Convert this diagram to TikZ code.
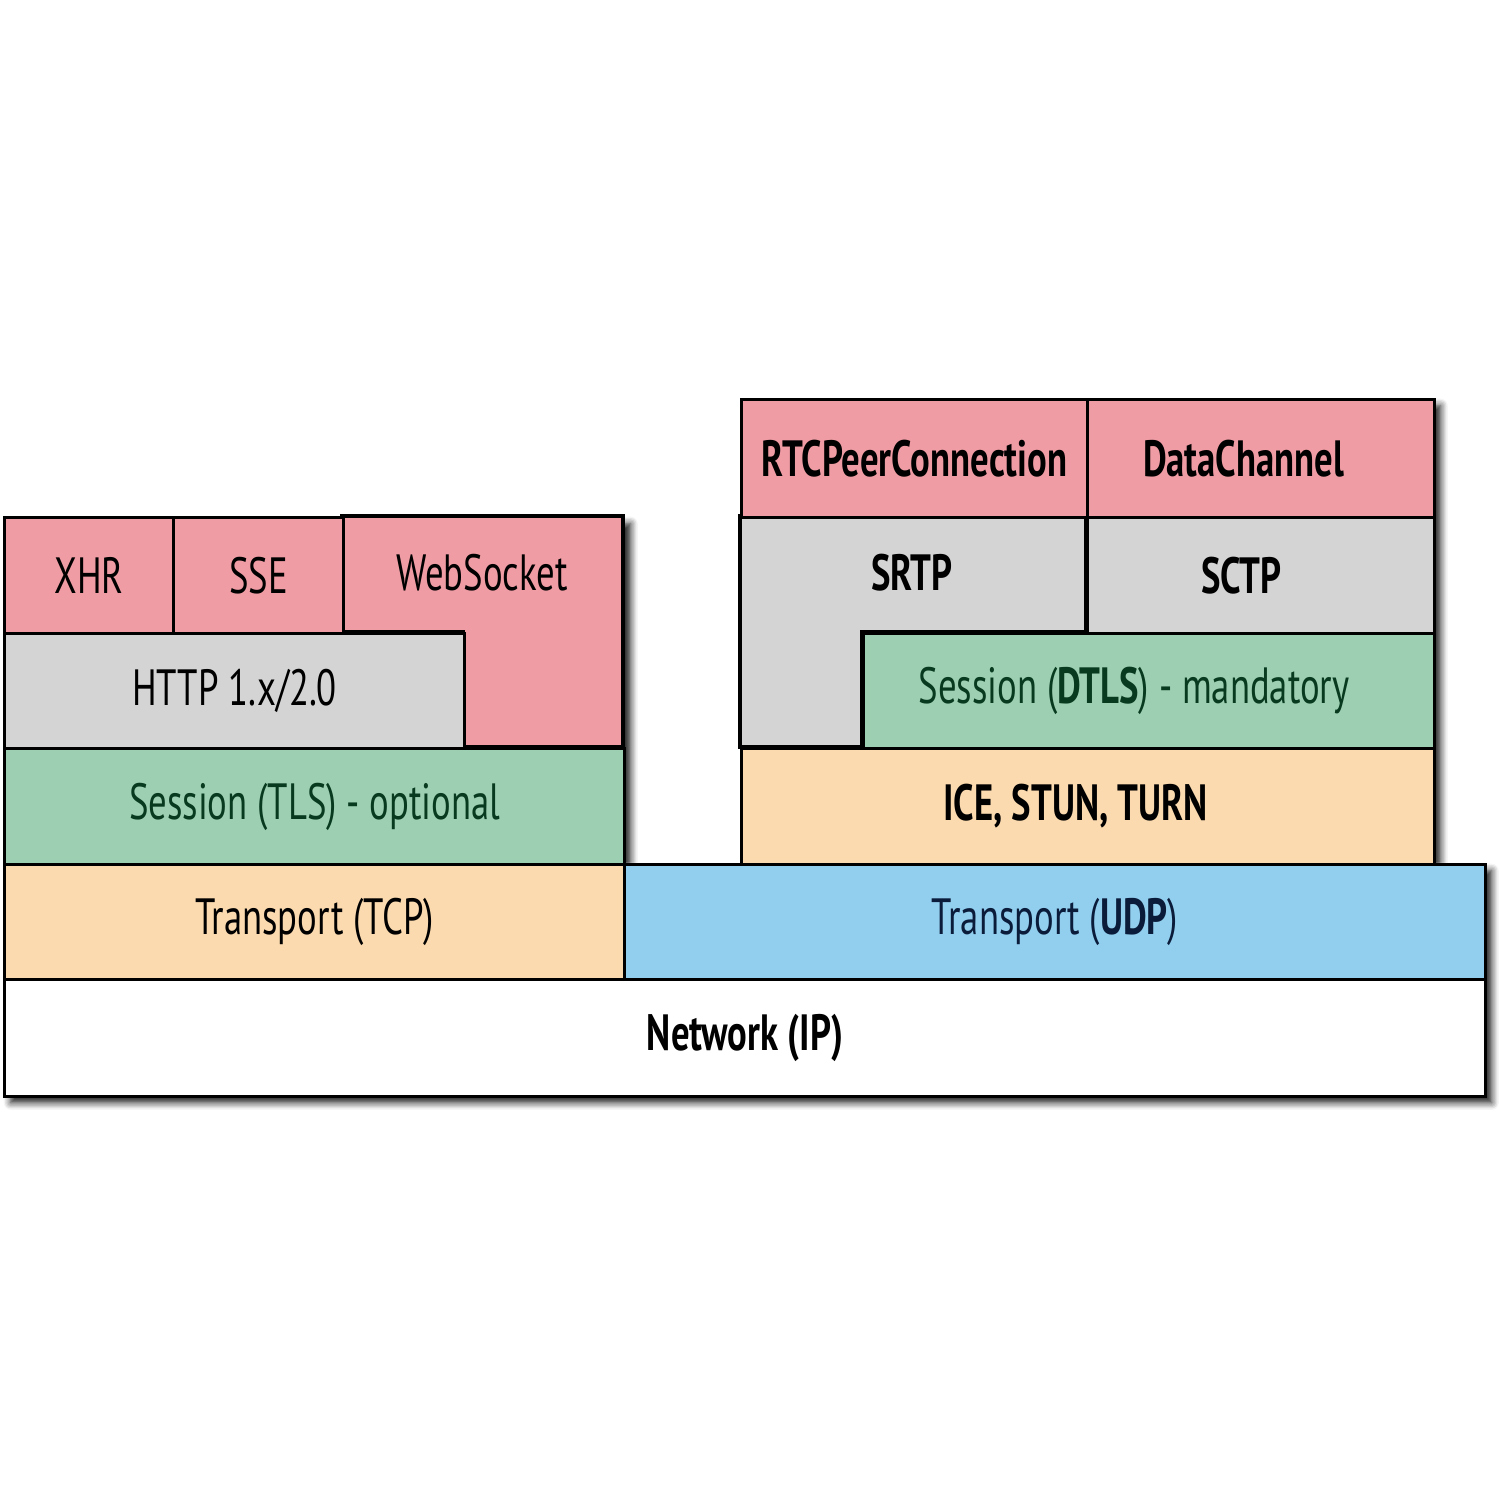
\documentclass[tikz,border=0pt]{standalone}
\usepackage{fontspec}
\setmainfont{PT Sans}[FakeStretch=0.72]
\usepackage{xcolor}
\usepackage{tikz}
\usetikzlibrary{positioning, shadows.blur}

\definecolor{apipink}{RGB}{240,156,164}
\definecolor{protogray}{RGB}{212,212,212}
\definecolor{sessgreen}{RGB}{157,207,178}
\definecolor{transpeach}{RGB}{251,218,175}
\definecolor{udpblue}{RGB}{146,206,238}
\definecolor{sesstext}{RGB}{8,58,32}
\definecolor{udptext}{RGB}{10,28,58}

\begin{document}
\begin{tikzpicture}[line join=miter]
    \tikzset{
        layer/.style={draw=black, line width=0.9pt, inner sep=0pt, anchor=north west, align=center,
                      font=\fontsize{14.5}{16}\selectfont},
        lshape/.style={draw=black, line width=0.9pt},
        label/.style={inner sep=0pt, font=\fontsize{14.5}{16}\selectfont}
    }
    \useasboundingbox (0,0) rectangle (15,15);

    % silhouette with shadow
    \fill[white, blur shadow={shadow xshift=2.2pt, shadow yshift=-2.2pt, shadow blur steps=6, shadow opacity=90}]
        (0.03,9.84) -- (6.23,9.84) -- (6.23,6.37) -- (7.40,6.37) -- (7.40,11.02) -- (14.33,11.02)
        -- (14.33,6.37) -- (14.84,6.37) -- (14.84,4.05) -- (0.03,4.05) -- cycle;

    % left stack: browser APIs over TCP
    \filldraw[lshape, fill=apipink] (3.42,9.84) -- (6.23,9.84) -- (6.23,7.53) -- (4.63,7.53) -- (4.63,8.68) -- (3.42,8.68) -- cycle;
    \node (WebSocket) [label] at (4.82,9.27) {WebSocket};
    \node (XHR) [layer, fill=apipink, minimum width=1.69cm, minimum height=1.16cm] at (0.03,9.84) {XHR};
    \node (SSE) [layer, fill=apipink, minimum width=1.70cm, minimum height=1.16cm] at (1.72,9.84) {SSE};
    \node (HTTP) [layer, fill=protogray, minimum width=4.60cm, minimum height=1.15cm] at (0.03,8.68) {HTTP 1.x/2.0};
    \node (TLS) [layer, fill=sessgreen, text=sesstext, minimum width=6.20cm, minimum height=1.16cm] at (0.03,7.53) {Session (TLS) - optional};
    \node (TCP) [layer, fill=transpeach, minimum width=6.20cm, minimum height=1.15cm] at (0.03,6.37) {Transport (TCP)};

    % right stack: WebRTC over UDP
    \filldraw[lshape, fill=protogray] (7.40,9.84) -- (10.86,9.84) -- (10.86,8.68) -- (8.62,8.68) -- (8.62,7.53) -- (7.40,7.53) -- cycle;
    \node (SRTP) [label] at (9.12,9.27) {\bfseries SRTP};
    \node (RTCPeer) [layer, fill=apipink, minimum width=3.46cm, minimum height=1.18cm] at (7.40,11.02) {\bfseries RTCPeerConnection};
    \node (DataChannel) [layer, fill=apipink, minimum width=3.47cm, minimum height=1.18cm] at (10.86,11.02) {\bfseries DataChannel\hspace*{0.35cm}};
    \node (SCTP) [layer, fill=protogray, minimum width=3.47cm, minimum height=1.16cm] at (10.86,9.84) {\bfseries SCTP\hspace*{0.4cm}};
    \node (DTLS) [layer, fill=sessgreen, text=sesstext, minimum width=5.71cm, minimum height=1.15cm] at (8.62,8.68) {Session (\textbf{DTLS}) - mandatory\hspace*{0.3cm}};
    \node (ICE) [layer, fill=transpeach, minimum width=6.93cm, minimum height=1.16cm] at (7.40,7.53) {\bfseries ICE, STUN, TURN\hspace*{0.25cm}};
    \node (UDP) [layer, fill=udpblue, text=udptext, minimum width=8.61cm, minimum height=1.15cm] at (6.23,6.37) {Transport (\textbf{UDP})};

    % shared network layer
    \node (IP) [layer, fill=white, minimum width=14.81cm, minimum height=1.17cm] at (0.03,5.22) {\bfseries Network (IP)};

\end{tikzpicture}
\end{document}
